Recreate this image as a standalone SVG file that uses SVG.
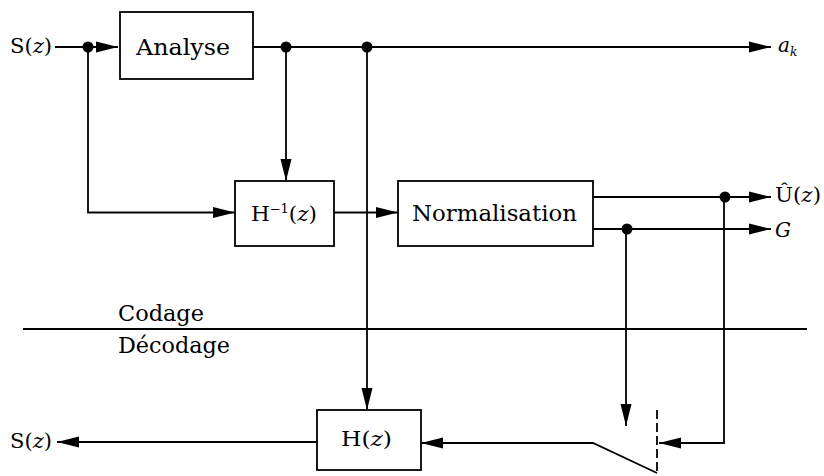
<svg xmlns="http://www.w3.org/2000/svg" width="824" height="476" viewBox="0 0 824 476">
<style>
.box{fill:#fff;stroke:#000;stroke-width:1.8}
.ln{fill:none;stroke:#000;stroke-width:1.8}
.t{font-family:"DejaVu Serif","Liberation Serif",serif;font-size:20px;fill:#000}
.b{font-size:22px}
.i{font-style:italic}
.dot{fill:#000}
</style>
<defs>
<marker id="ar" markerUnits="userSpaceOnUse" markerWidth="22" markerHeight="12" refX="22" refY="6" orient="auto">
<path d="M0,0.5 L22,6 L0,11.5 z" fill="#000"/>
</marker>
</defs>
<g id="connectors">
<path class="ln" d="M55,47 H118" marker-end="url(#ar)"/>
<path class="ln" d="M88,47 V212.5 H235" marker-end="url(#ar)"/>
<path class="ln" d="M253,47 H771" marker-end="url(#ar)"/>
<path class="ln" d="M286,47 V181" marker-end="url(#ar)"/>
<path class="ln" d="M367,47 V410" marker-end="url(#ar)"/>
<path class="ln" d="M334,212.5 H398" marker-end="url(#ar)"/>
<path class="ln" d="M593,197 H771" marker-end="url(#ar)"/>
<path class="ln" d="M593,229 H771" marker-end="url(#ar)"/>
<path class="ln" d="M626,229 V426" marker-end="url(#ar)"/>
<path class="ln" d="M724,197 V443 H659" marker-end="url(#ar)"/>
<path class="ln" d="M657,473 L593,443 H421" marker-end="url(#ar)"/>
<path class="ln" d="M657,410 V473" stroke-dasharray="9,4"/>
<path class="ln" d="M317,442 H57" marker-end="url(#ar)"/>
<circle class="dot" cx="88" cy="47" r="5.5"/>
<circle class="dot" cx="286" cy="47" r="5.5"/>
<circle class="dot" cx="367" cy="47" r="5.5"/>
<circle class="dot" cx="725" cy="197" r="5.5"/>
<circle class="dot" cx="627" cy="229" r="5.5"/>
</g>
<g id="separator">
<path class="ln" d="M23,329 H807" stroke-width="2.2"/>
<text class="t b" x="118" y="321" textLength="86" lengthAdjust="spacingAndGlyphs">Codage</text>
<text class="t b" x="118" y="353" textLength="112" lengthAdjust="spacingAndGlyphs">Décodage</text>
</g>
<g id="analyse">
<rect class="box" x="120" y="12" width="133" height="67"/>
<text class="t b" x="136" y="55" textLength="94" lengthAdjust="spacingAndGlyphs">Analyse</text>
</g>
<g id="hinv">
<rect class="box" x="235" y="181" width="99" height="65"/>
<text class="t" x="251" y="221" textLength="66" lengthAdjust="spacingAndGlyphs">H<tspan font-size="12" dy="-8">−1</tspan><tspan dy="8">(</tspan><tspan class="i">z</tspan>)</text>
</g>
<g id="normalisation">
<rect class="box" x="398" y="181" width="195" height="65"/>
<text class="t b" x="412" y="221" textLength="165" lengthAdjust="spacingAndGlyphs">Normalisation</text>
</g>
<g id="hz">
<rect class="box" x="317" y="410" width="104" height="60"/>
<text class="t" x="341" y="446" textLength="51" lengthAdjust="spacingAndGlyphs">H(<tspan class="i">z</tspan>)</text>
</g>
<g id="labels">
<text class="t" x="10" y="53" textLength="42" lengthAdjust="spacingAndGlyphs">S(<tspan class="i">z</tspan>)</text>
<text class="t" x="10" y="448" textLength="42" lengthAdjust="spacingAndGlyphs">S(<tspan class="i">z</tspan>)</text>
<text class="t" x="778" y="52"><tspan class="i">a</tspan><tspan class="i" font-size="12" dy="4">k</tspan></text>
<text class="t" x="775" y="202" textLength="46" lengthAdjust="spacingAndGlyphs">Û(<tspan class="i">z</tspan>)</text>
<text class="t i" x="775" y="237">G</text>
</g>
</svg>
